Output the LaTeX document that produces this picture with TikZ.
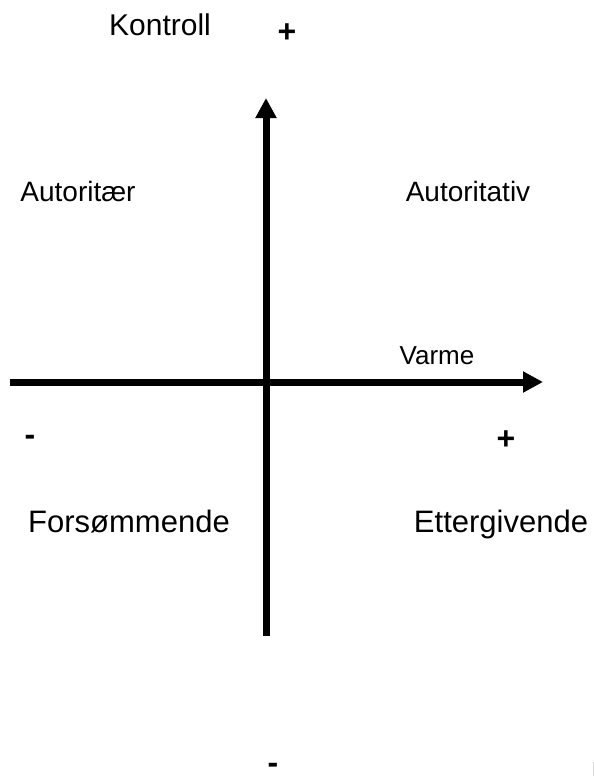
\documentclass[tikz,border=0pt]{standalone}
\usepackage{fontspec}
\setmainfont{Liberation Sans}
\usetikzlibrary{arrows.meta}
\begin{document}
\begin{tikzpicture}[x=1pt,y=-1pt,
  axis/.style={line width=7pt,-{Triangle[length=20pt,width=20pt]}},
  lbl/.style={inner sep=0pt,anchor=base},
  sgn/.style={inner sep=0pt,anchor=center,font=\fontsize{32}{36}\selectfont\bfseries}]
\useasboundingbox[fill=white] (0,0) rectangle (594,776);
\coordinate (vb) at (266,636);
\coordinate (vt) at (266,98);
\coordinate (hl) at (10,382);
\coordinate (hr) at (543,382);
\draw[axis] (vb) -- (vt);
\draw[axis] (hl) -- (hr);
\node[lbl,font=\fontsize{30}{34}\selectfont] (kontroll) at (160,36) {Kontroll};
\node[sgn] (kplus) at (287,33) {+};
\node[lbl,font=\fontsize{28}{32}\selectfont] (autoritaer) at (78,201) {Autoritær};
\node[lbl,font=\fontsize{28}{32}\selectfont] (autoritativ) at (468,201) {Autoritativ};
\node[lbl,font=\fontsize{26}{30}\selectfont] (varme) at (437,364) {Varme};
\node[sgn] (vminus) at (30,440) {-};
\node[sgn] (vplus) at (506,440) {+};
\node[lbl,font=\fontsize{31}{35}\selectfont] (forsommende) at (129,532) {Forsømmende};
\node[lbl,font=\fontsize{31}{35}\selectfont] (ettergivende) at (501,532) {Ettergivende};
\node[sgn] (kminus) at (273,768) {-};
\draw[black!15,line width=1pt] (593,762) -- (593,776);
\end{tikzpicture}
\end{document}
